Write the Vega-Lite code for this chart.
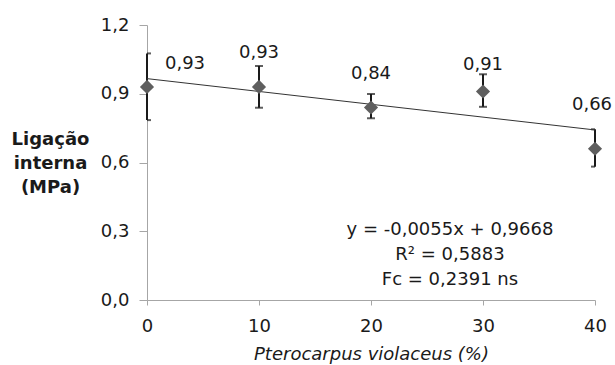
{
  "$schema": "https://vega.github.io/schema/vega-lite/v6.json",
  "width": 448,
  "height": 275,
  "autosize": {"type": "none"},
  "padding": {"left": 147, "top": 25, "right": 20, "bottom": 65},
  "background": "white",
  "config": {
    "view": {"stroke": null},
    "font": "DejaVu Sans",
    "axis": {
      "grid": false,
      "domainColor": "#a6a6a6",
      "tickColor": "#a6a6a6",
      "labelFont": "DejaVu Sans",
      "labelFontSize": 18,
      "labelColor": "#1a1a1a",
      "labelFlush": false,
      "titleFont": "DejaVu Sans",
      "titleColor": "#1a1a1a"
    }
  },
  "data": {
    "values": [
      {"x": 0, "mean": 0.93, "lo": 0.785, "hi": 1.076, "label": "0,93"},
      {"x": 10, "mean": 0.93, "lo": 0.839, "hi": 1.021, "label": "0,93"},
      {"x": 20, "mean": 0.84, "lo": 0.793, "hi": 0.899, "label": "0,84"},
      {"x": 30, "mean": 0.91, "lo": 0.843, "hi": 0.985, "label": "0,91"},
      {"x": 40, "mean": 0.66, "lo": 0.582, "hi": 0.745, "label": "0,66"}
    ]
  },
  "encoding": {
    "x": {
      "field": "x",
      "type": "quantitative",
      "scale": {"domain": [0, 40], "nice": false, "zero": false},
      "axis": {
        "values": [0, 10, 20, 30, 40],
        "tickSize": 5,
        "labelPadding": 12,
        "title": "Pterocarpus violaceus (%)",
        "titleFontSize": 18,
        "titleFontStyle": "italic",
        "titleFontWeight": "normal",
        "titlePadding": 10
      }
    }
  },
  "layer": [
    {
      "mark": {"type": "rule", "color": "#1a1a1a", "strokeWidth": 2},
      "encoding": {
        "y": {
          "field": "lo",
          "type": "quantitative",
          "scale": {"domain": [0, 1.2], "nice": false},
          "axis": {
            "values": [0, 0.3, 0.6, 0.9, 1.2],
            "labelExpr": "replace(format(datum.value, '.1f'), '.', ',')",
            "tickSize": 8,
            "labelPadding": 10,
            "title": ["Ligação", "interna", "(MPa)"],
            "titleFontSize": 18,
            "titleFontWeight": "bold",
            "titleAngle": 0,
            "titleAlign": "center",
            "titleBaseline": "middle",
            "titleLineHeight": 24,
            "titleX": -97,
            "titleY": 114
          }
        },
        "y2": {"field": "hi"}
      }
    },
    {
      "mark": {"type": "tick", "orient": "horizontal", "color": "#1a1a1a", "thickness": 2, "size": 8, "clip": true},
      "encoding": {"y": {"field": "lo", "type": "quantitative"}}
    },
    {
      "mark": {"type": "tick", "orient": "horizontal", "color": "#1a1a1a", "thickness": 2, "size": 8, "clip": true},
      "encoding": {"y": {"field": "hi", "type": "quantitative"}}
    },
    {
      "transform": [{"regression": "mean", "on": "x", "extent": [0, 40]}],
      "mark": {"type": "line", "color": "#333333", "strokeWidth": 1},
      "encoding": {"y": {"field": "mean", "type": "quantitative"}}
    },
    {
      "mark": {"type": "point", "shape": "diamond", "filled": true, "size": 200, "color": "#5f5f5f", "opacity": 1},
      "encoding": {"y": {"field": "mean", "type": "quantitative"}}
    },
    {
      "transform": [{"filter": "datum.x == 10 || datum.x == 20"}],
      "mark": {"type": "text", "fontSize": 18, "color": "#1a1a1a", "dy": -34, "baseline": "middle", "align": "center"},
      "encoding": {"y": {"field": "mean", "type": "quantitative"}, "text": {"field": "label"}}
    },
    {
      "transform": [{"filter": "datum.x == 30"}],
      "mark": {"type": "text", "fontSize": 18, "color": "#1a1a1a", "dy": -26, "baseline": "middle", "align": "center"},
      "encoding": {"y": {"field": "mean", "type": "quantitative"}, "text": {"field": "label"}}
    },
    {
      "transform": [{"filter": "datum.x == 40"}],
      "mark": {"type": "text", "fontSize": 18, "color": "#1a1a1a", "dx": -3, "dy": -44, "baseline": "middle", "align": "center"},
      "encoding": {"y": {"field": "mean", "type": "quantitative"}, "text": {"field": "label"}}
    },
    {
      "transform": [{"filter": "datum.x == 0"}],
      "mark": {"type": "text", "fontSize": 18, "color": "#1a1a1a", "dx": 38, "dy": -23, "baseline": "middle", "align": "center"},
      "encoding": {"y": {"field": "mean", "type": "quantitative"}, "text": {"field": "label"}}
    },
    {
      "transform": [{"filter": "datum.x == 0"}],
      "mark": {
        "type": "text",
        "fontSize": 18,
        "color": "#1a1a1a",
        "align": "center",
        "baseline": "middle",
        "lineHeight": 25,
        "text": ["y = -0,0055x + 0,9668", "R² = 0,5883", "Fc = 0,2391 ns"]
      },
      "encoding": {
        "x": {"datum": 27.05, "type": "quantitative"},
        "y": {"datum": 0.305, "type": "quantitative"}
      }
    }
  ]
}
